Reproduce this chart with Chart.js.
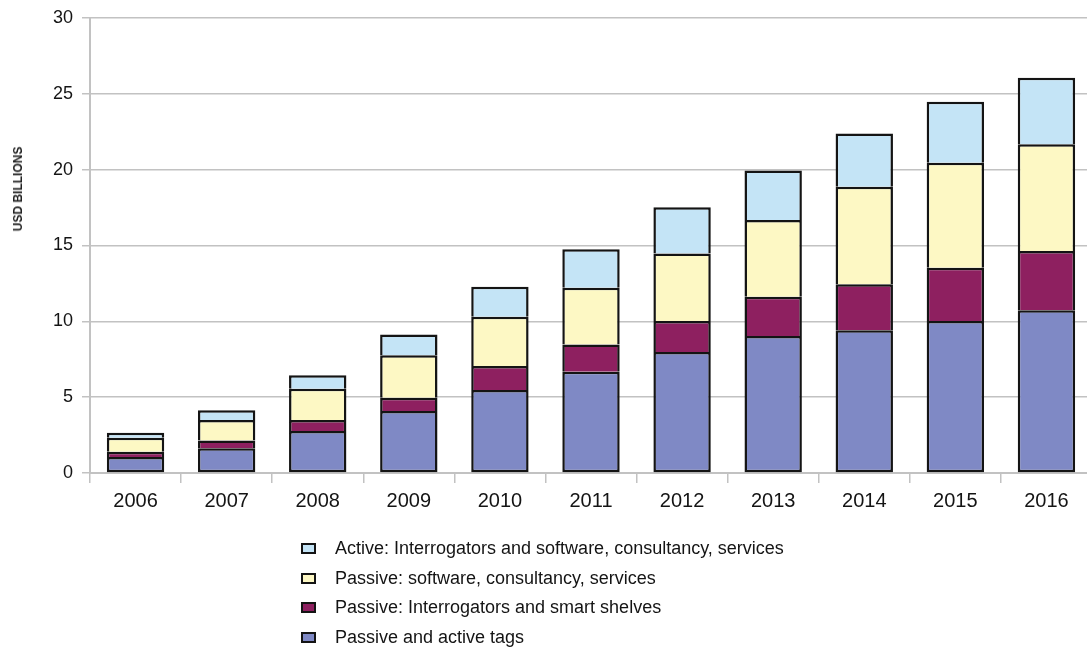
<!DOCTYPE html>
<html>
<head>
<meta charset="utf-8">
<script src="https://cdn.jsdelivr.net/npm/chart.js@4"></script>
<style>
  html, body { margin: 0; padding: 0; background: #fff; overflow: hidden; }
  #wrap { position: relative; width: 1087px; height: 650px; overflow: hidden; }
  #chart { position: absolute; left: 0; top: 0; }
  #ytitle {
    position: absolute; left: 18px; top: 189px;
    transform: translate(-50%, -50%) rotate(-90deg);
    font: bold 12px 'Liberation Sans', Arial, sans-serif; color: #222; white-space: nowrap;
  }
  #legend { position: absolute; left: 301px; top: 534px; font: 18px 'Liberation Sans', Arial, sans-serif; color: #141414; }
  .item { display: flex; align-items: center; height: 29.5px; }
  .box { width: 11px; height: 7px; border: 2.5px solid #141414; margin-right: 19px; }
</style>
</head>
<body>
<div id="wrap">
  <canvas id="chart" width="1092" height="650"></canvas>
  <div id="ytitle">USD BILLIONS</div>
  <div id="legend"></div>
</div>
<script>
// values, bottom segment first
const years = ['2006', '2007', '2008', '2009', '2010', '2011', '2012', '2013', '2014', '2015', '2016'];
const tags = [1.05, 1.63, 2.77, 4.09, 5.47, 6.68, 7.98, 9.03, 9.41, 10.02, 10.73];
const interrogators = [0.35, 0.52, 0.72, 0.87, 1.58, 1.80, 2.04, 2.59, 3.03, 3.51, 3.90];
const passiveServices = [0.93, 1.34, 2.07, 2.80, 3.25, 3.74, 4.46, 5.06, 6.44, 6.93, 7.04];
const activeAll = [0.33, 0.64, 0.88, 1.38, 1.98, 2.53, 3.05, 3.27, 3.51, 4.02, 4.39];
const yTicks = [0, 5, 10, 15, 20, 25, 30];

const font = "'Liberation Sans', Arial, sans-serif";
const gridColor = '#c2c2c2';

function series(label, data, color, isBottom) {
  return {
    label: label,
    data: data,
    backgroundColor: color,
    borderColor: '#141414',
    borderWidth: 2.5,
    // upper segments skip their bottom edge so joins stay as thick as the outline
    borderSkipped: isBottom ? false : 'start',
    barPercentage: 0.63,
    categoryPercentage: 1,
  };
}

const chart = new Chart(document.getElementById('chart'), {
  type: 'bar',
  data: {
    labels: years,
    datasets: [
      series('Passive and active tags', tags, '#7f89c5', true),
      series('Passive: Interrogators and smart shelves', interrogators, '#8e2060'),
      series('Passive: software, consultancy, services', passiveServices, '#fdf8c4'),
      series('Active: Interrogators and software, consultancy, services', activeAll, '#c4e4f6'),
    ],
  },
  options: {
    responsive: false,
    animation: false,
    layout: { padding: { top: 2, right: 0, left: 0, bottom: 137 } },
    plugins: {
      legend: { display: false },
      tooltip: { enabled: false },
    },
    scales: {
      x: {
        stacked: true,
        grid: { drawOnChartArea: false, color: gridColor, lineWidth: 1.5, tickLength: 10, offset: true },
        border: { color: gridColor, width: 2 },
        ticks: { color: '#141414', font: { family: font, size: 20 }, padding: 6, maxRotation: 0 },
        afterFit: (s) => { s.height = 40; },
      },
      y: {
        stacked: true,
        min: 0,
        max: 30,
        afterBuildTicks: (s) => { s.ticks = yTicks.map((v) => ({ value: v })); },
        grid: { color: gridColor, lineWidth: 1.5, tickLength: 8 },
        border: { color: gridColor, width: 2 },
        ticks: { color: '#141414', font: { family: font, size: 18, lineHeight: 1 }, padding: 9 },
        afterFit: (s) => { s.width = 90; },
      },
    },
  },
});

// legend, top series first like the original
const legend = document.getElementById('legend');
chart.data.datasets.slice().reverse().forEach((ds) => {
  const item = document.createElement('div');
  item.className = 'item';
  item.innerHTML = '<span class="box" style="background:' + ds.backgroundColor + '"></span><span>' + ds.label + '</span>';
  legend.appendChild(item);
});
</script>
</body>
</html>
